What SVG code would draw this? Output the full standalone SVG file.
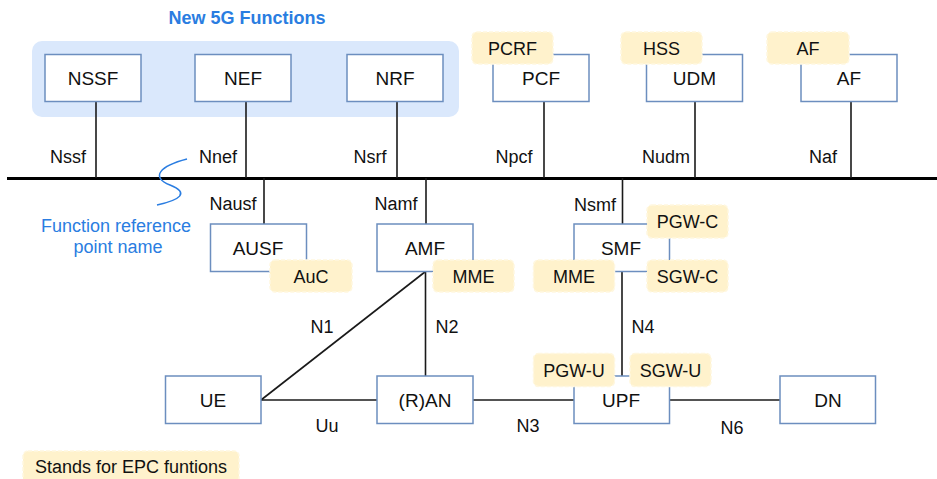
<svg xmlns="http://www.w3.org/2000/svg" width="937" height="479" viewBox="0 0 937 479">
  <style>
    text { font-family: "Liberation Sans", Arial, sans-serif; fill: #111; }
    .box { fill: #ffffff; stroke: #6c8ebf; stroke-width: 1.5; }
    .boxlabel { font-size: 19px; text-anchor: middle; }
    .tag { fill: #fff2cc; stroke: #fff7df; stroke-width: 1.5; stroke-dasharray: 4 2; }
    .taglabel { font-size: 18px; text-anchor: middle; }
    .link { stroke: #1a1a1a; stroke-width: 1.6; fill: none; }
    .bus { stroke: #000; stroke-width: 3.2; fill: none; }
    .elabel { font-size: 18px; text-anchor: middle; }
    .note { fill: #2a7de1; font-size: 18px; text-anchor: middle; }
  </style>

  <!-- 5G service-based group -->
  <g id="group-5g">
    <rect x="32" y="41" width="427" height="76" rx="10" fill="#dae8fc"/>
    <text x="247" y="24" style="fill:#2a7de1;font-size:18px;font-weight:bold;text-anchor:middle">New 5G Functions</text>
  </g>

  <!-- connectors -->
  <g id="connectors">
    <line class="bus" x1="7" y1="178.5" x2="937" y2="178.5"/>
    <line class="link" x1="96" y1="101.5" x2="96" y2="178"/>
    <line class="link" x1="246" y1="101.5" x2="246" y2="178"/>
    <line class="link" x1="397" y1="101.5" x2="397" y2="178"/>
    <line class="link" x1="544" y1="101.5" x2="544" y2="178"/>
    <line class="link" x1="695" y1="101.5" x2="695" y2="178"/>
    <line class="link" x1="851" y1="101.5" x2="851" y2="178"/>
    <line class="link" x1="264" y1="178" x2="264" y2="224"/>
    <line class="link" x1="426" y1="178" x2="426" y2="224"/>
    <line class="link" x1="622.5" y1="178" x2="622.5" y2="224"/>
    <line class="link" x1="425.5" y1="271.5" x2="261" y2="400"/>
    <line class="link" x1="425.5" y1="271.5" x2="425.5" y2="376"/>
    <line class="link" x1="622" y1="271.5" x2="622" y2="376"/>
    <line class="link" x1="261" y1="400" x2="377" y2="400"/>
    <line class="link" x1="473" y1="400" x2="574" y2="400"/>
    <line class="link" x1="670" y1="400" x2="780" y2="400"/>

    <text class="elabel" x="68" y="163">Nssf</text>
    <text class="elabel" x="218" y="163">Nnef</text>
    <text class="elabel" x="370" y="163">Nsrf</text>
    <text class="elabel" x="514" y="163">Npcf</text>
    <text class="elabel" x="666" y="163">Nudm</text>
    <text class="elabel" x="823" y="163">Naf</text>
    <text class="elabel" x="233" y="210">Nausf</text>
    <text class="elabel" x="396" y="210">Namf</text>
    <text class="elabel" x="595" y="211">Nsmf</text>
    <text class="elabel" x="322" y="333">N1</text>
    <text class="elabel" x="447" y="333">N2</text>
    <text class="elabel" x="643" y="333">N4</text>
    <text class="elabel" x="327" y="432">Uu</text>
    <text class="elabel" x="528" y="432">N3</text>
    <text class="elabel" x="732" y="434">N6</text>
  </g>

  <!-- annotation for reference point names -->
  <g id="annotation">
    <path d="M187,159 C160,166 150,177 170,185 C190,193 180,200 157,205" fill="none" stroke="#2a7de1" stroke-width="1.5"/>
    <text class="note" x="116" y="232">Function reference</text>
    <text class="note" x="118" y="253">point name</text>
  </g>

  <!-- network functions -->
  <g id="NSSF"><rect class="box" x="45" y="54.5" width="96" height="47"/><text class="boxlabel" x="93" y="85">NSSF</text></g>
  <g id="NEF"><rect class="box" x="195" y="54.5" width="96" height="47"/><text class="boxlabel" x="243" y="85">NEF</text></g>
  <g id="NRF"><rect class="box" x="347" y="54.5" width="96" height="47"/><text class="boxlabel" x="395" y="85">NRF</text></g>
  <g id="PCF"><rect class="box" x="493" y="54.5" width="96" height="47"/><text class="boxlabel" x="541" y="85">PCF</text></g>
  <g id="UDM"><rect class="box" x="646.5" y="54.5" width="96" height="47"/><text class="boxlabel" x="694.5" y="85">UDM</text></g>
  <g id="AF"><rect class="box" x="801" y="54.5" width="96" height="47"/><text class="boxlabel" x="849" y="85">AF</text></g>
  <g id="AUSF"><rect class="box" x="210.5" y="224" width="96" height="47.5"/><text class="boxlabel" x="258" y="254.5">AUSF</text></g>
  <g id="AMF"><rect class="box" x="377" y="224" width="96" height="47.5"/><text class="boxlabel" x="425" y="254.5">AMF</text></g>
  <g id="SMF"><rect class="box" x="574" y="224" width="95.5" height="47.5"/><text class="boxlabel" x="621" y="254.5">SMF</text></g>
  <g id="UE"><rect class="box" x="165.5" y="376" width="95.5" height="47.5"/><text class="boxlabel" x="213" y="406.5">UE</text></g>
  <g id="RAN"><rect class="box" x="377" y="376" width="96" height="47.5"/><text class="boxlabel" x="425" y="406.5">(R)AN</text></g>
  <g id="UPF"><rect class="box" x="574" y="376" width="95.5" height="47.5"/><text class="boxlabel" x="621" y="406.5">UPF</text></g>
  <g id="DN"><rect class="box" x="780" y="376" width="95.5" height="47.5"/><text class="boxlabel" x="828" y="406.5">DN</text></g>

  <!-- EPC equivalents -->
  <g id="tag-PCRF"><rect class="tag" x="472" y="32" width="81" height="32" rx="5"/><text class="taglabel" x="512.5" y="54.5">PCRF</text></g>
  <g id="tag-HSS"><rect class="tag" x="621" y="32" width="81" height="32" rx="5"/><text class="taglabel" x="661.5" y="54.5">HSS</text></g>
  <g id="tag-AF"><rect class="tag" x="767" y="32" width="82" height="32" rx="5"/><text class="taglabel" x="808" y="54.5">AF</text></g>
  <g id="tag-AuC"><rect class="tag" x="270" y="260" width="82" height="32" rx="5"/><text class="taglabel" x="311" y="282.5">AuC</text></g>
  <g id="tag-MME-AMF"><rect class="tag" x="433" y="260" width="81" height="32" rx="5"/><text class="taglabel" x="473.5" y="282.5">MME</text></g>
  <g id="tag-PGW-C"><rect class="tag" x="647" y="205" width="81" height="33" rx="5"/><text class="taglabel" x="687.5" y="228">PGW-C</text></g>
  <g id="tag-MME-SMF"><rect class="tag" x="533.5" y="260" width="81" height="32" rx="5"/><text class="taglabel" x="574" y="282.5">MME</text></g>
  <g id="tag-SGW-C"><rect class="tag" x="647" y="260" width="81" height="32" rx="5"/><text class="taglabel" x="687.5" y="282.5">SGW-C</text></g>
  <g id="tag-PGW-U"><rect class="tag" x="533.5" y="353.5" width="81" height="33" rx="5"/><text class="taglabel" x="574" y="376.5">PGW-U</text></g>
  <g id="tag-SGW-U"><rect class="tag" x="630" y="353.5" width="81" height="33" rx="5"/><text class="taglabel" x="670.5" y="376.5">SGW-U</text></g>

  <!-- legend -->
  <g id="legend">
    <rect class="tag" x="23" y="451" width="216" height="34" rx="5"/>
    <text class="taglabel" x="131" y="473">Stands for EPC funtions</text>
  </g>
</svg>
